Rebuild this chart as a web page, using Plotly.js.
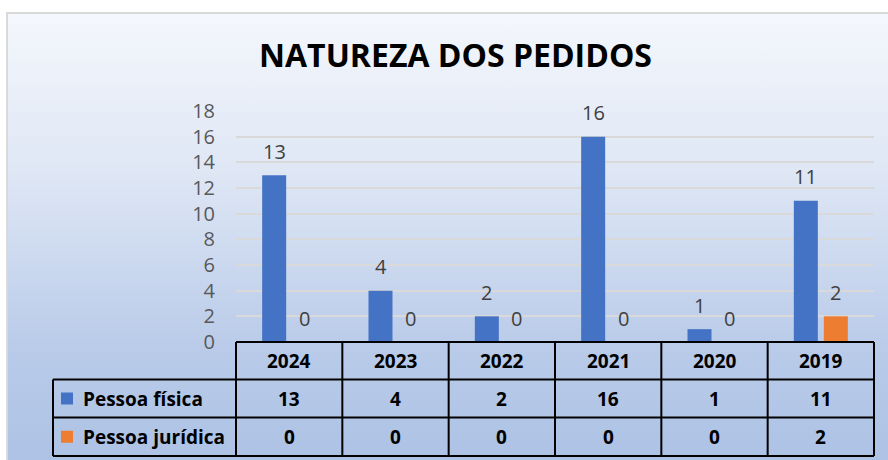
<!DOCTYPE html>
<html>
<head>
<meta charset="utf-8">
<script src="https://cdn.plot.ly/plotly-3.0.1.min.js"></script>
<style>
  html, body { margin:0; padding:0; background:#ffffff; }
  #bg { position:absolute; left:6px; top:12px; width:882px; height:448px;
        background: linear-gradient(to bottom, #f4f7fc 0%, #dfe7f5 35%, #b9cbe9 75%, #adc2e5 100%);
        border-left:2px solid #d9d9d9; border-top:2px solid #d9d9d9; box-sizing:border-box; }
  #chart { position:absolute; left:0; top:0; width:888px; height:460px; }
</style>
</head>
<body>
<div id="bg"></div>
<div id="chart"></div>
<script>
// ---- data ----
const categories = ['2024', '2023', '2022', '2021', '2020', '2019'];
const pessoaFisica = [13, 4, 2, 16, 1, 11];
const pessoaJuridica = [0, 0, 0, 0, 0, 2];
const seriesNames = ['Pessoa física', 'Pessoa jurídica'];
const yTickVals = [0, 2, 4, 6, 8, 10, 12, 14, 16, 18];
const chartTitle = 'NATUREZA DOS PEDIDOS';

// ---- styling / layout constants ----
const colors = ['#4472C4', '#ED7D31'];
const FONT = '"Open Sans", Lato, sans-serif';
const L = 236, R = 874, T = 111, B = 342, W = 888, H = 460;
const rowEdges = [342, 379.5, 417.5, 456];  // table row boundaries (px)
const legendLeft = 53;
const px2x = p => (p - L) / (R - L);
const py2y = p => (B - p) / (B - T);

const series = [pessoaFisica, pessoaJuridica];
const n = categories.length;

const traces = series.map((vals, s) => ({
  type: 'bar', x: categories, y: vals, name: seriesNames[s],
  marker: { color: colors[s], line: { width: 0 } },
  hoverinfo: 'skip', showlegend: false
}));

const shapes = [];
const annotations = [];
const lineStyle = { color: '#000000', width: 2 };

// Table grid lines
shapes.push({ type: 'line', xref: 'paper', yref: 'paper', x0: 0, x1: 1, y0: py2y(rowEdges[0]), y1: py2y(rowEdges[0]), line: lineStyle });
for (let r = 1; r < rowEdges.length; r++) {
  shapes.push({ type: 'line', xref: 'paper', yref: 'paper', x0: px2x(legendLeft), x1: 1,
    y0: py2y(rowEdges[r]), y1: py2y(rowEdges[r]), line: lineStyle });
}
for (let k = 0; k <= n; k++) {
  shapes.push({ type: 'line', xref: 'paper', yref: 'paper', x0: k / n, x1: k / n,
    y0: py2y(rowEdges[0]), y1: py2y(rowEdges[3]), line: lineStyle });
}
shapes.push({ type: 'line', xref: 'paper', yref: 'paper', x0: px2x(legendLeft), x1: px2x(legendLeft),
  y0: py2y(rowEdges[1]), y1: py2y(rowEdges[3]), line: lineStyle });

const rowMid = r => py2y((rowEdges[r] + rowEdges[r + 1]) / 2);

// header years (x given as category index on the category axis)
categories.forEach((c, i) => annotations.push({
  xref: 'x', yref: 'paper', x: i, y: rowMid(0), text: '<b>' + c + '</b>', showarrow: false,
  xanchor: 'center', yanchor: 'middle', font: { family: FONT, size: 19, color: '#000' }
}));
series.forEach((vals, s) => {
  vals.forEach((v, i) => annotations.push({
    xref: 'x', yref: 'paper', x: i, y: rowMid(s + 1), text: '<b>' + v + '</b>', showarrow: false,
    xanchor: 'center', yanchor: 'middle', font: { family: FONT, size: 19, color: '#000' }
  }));
  const cy = (rowEdges[s + 1] + rowEdges[s + 2]) / 2;
  shapes.push({ type: 'rect', xref: 'paper', yref: 'paper', x0: px2x(61), x1: px2x(73),
    y0: py2y(cy - 6), y1: py2y(cy + 6), fillcolor: colors[s], line: { width: 0 } });
  annotations.push({ xref: 'paper', yref: 'paper', x: px2x(81), y: rowMid(s + 1),
    text: '<b>' + seriesNames[s] + '</b>', showarrow: false, xanchor: 'left', yanchor: 'middle',
    font: { family: FONT, size: 19, color: '#000' } });
});

// data labels above bars
series.forEach((vals, s) => {
  vals.forEach((v, i) => annotations.push({
    xref: 'x', yref: 'y', x: i, y: v, text: String(v), showarrow: false,
    xshift: s === 0 ? -15 : 15, yshift: 24, xanchor: 'center', yanchor: 'middle',
    font: { family: FONT, size: 20, color: '#404040' }
  }));
});

const layout = {
  width: W, height: H,
  paper_bgcolor: 'rgba(0,0,0,0)', plot_bgcolor: 'rgba(0,0,0,0)',
  margin: { l: L, r: W - R, t: T, b: H - B, pad: 0 },
  barmode: 'group', bargap: 0.4357, bargroupgap: 0.2,
  title: { text: '<b>' + chartTitle + '</b>', xref: 'container', yref: 'container',
    x: 455.5 / W, y: 1 - 56 / H, xanchor: 'center', yanchor: 'middle',
    font: { family: FONT, size: 32, color: '#000' } },
  xaxis: { type: 'category', range: [-0.5, n - 0.5], autorange: false, showticklabels: false,
    showgrid: false, zeroline: false, showline: false, ticks: '', fixedrange: true },
  yaxis: { range: [0, 18], autorange: false, tickvals: yTickVals, ticktext: yTickVals.map(String),
    showgrid: true, gridcolor: '#d9d9d9', gridwidth: 2, zeroline: false, showline: false, ticks: '',
    ticklabelstandoff: 20, tickfont: { family: FONT, size: 20, color: '#595959' }, fixedrange: true },
  shapes: shapes, annotations: annotations, showlegend: false
};

Plotly.newPlot('chart', traces, layout, { displayModeBar: false, staticPlot: true });
</script>
</body>
</html>
